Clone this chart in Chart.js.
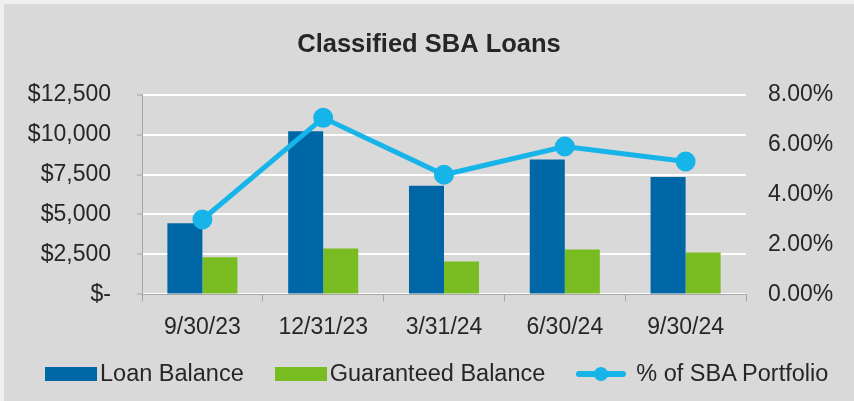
<!DOCTYPE html>
<html>
<head>
<meta charset="utf-8">
<script src="https://cdn.jsdelivr.net/npm/chart.js@4.4.1/dist/chart.umd.min.js"></script>
<style>
  html, body { margin: 0; padding: 0; background: #efefef; }
  #wrap { position: absolute; left: 4px; top: 4px; width: 850px; height: 397px; background: #d9d9d9; }
  #chart { display: block; }
  .legend { position: absolute; left: 41px; top: 356px; display: flex; align-items: center; gap: 31px;
            font-family: "Liberation Sans", Arial, sans-serif; font-size: 23.5px; color: #262626; }
  .item { display: flex; align-items: center; }
  .box { width: 52px; height: 14px; margin-right: 3px; }
  .lineKey { position: relative; width: 50px; height: 14px; margin-right: 10px; }
  .lineKey::before { content: ""; position: absolute; left: 0; right: 0; top: 4px; height: 6px; background: #17b4e9; border-radius: 3px; }
  .lineKey::after { content: ""; position: absolute; left: 18px; top: 0; width: 14px; height: 14px; border-radius: 50%; background: #17b4e9; }
</style>
</head>
<body>
<div id="wrap">
  <canvas id="chart" width="850" height="397"></canvas>
  <div class="legend">
    <div class="item"><span class="box" style="background:#0067a7"></span>Loan Balance</div>
    <div class="item"><span class="box" style="background:#79bc21"></span>Guaranteed Balance</div>
    <div class="item"><span class="lineKey"></span>% of SBA Portfolio</div>
  </div>
</div>
<script>
  const quarters = ["9/30/23", "12/31/23", "3/31/24", "6/30/24", "9/30/24"];
  const loanBalance = [4450, 10200, 6800, 8440, 7350];
  const guaranteedBalance = [2330, 2870, 2060, 2810, 2620];
  const pctOfPortfolio = [3.0, 7.07, 4.79, 5.92, 5.32];
  const dollarTicks = [0, 2500, 5000, 7500, 10000, 12500];
  const pctTicks = [0, 2, 4, 6, 8];

  const font = { family: "'Liberation Sans', Arial, sans-serif", size: 23 };
  const axisGray = "#a6a6a6";

  new Chart(document.getElementById("chart").getContext("2d"), {
    type: "bar",
    data: {
      labels: quarters,
      datasets: [
        {
          type: "line",
          label: "% of SBA Portfolio",
          data: pctOfPortfolio,
          yAxisID: "y1",
          borderColor: "#17b4e9",
          backgroundColor: "#17b4e9",
          borderWidth: 5,
          pointRadius: 7.5,
          pointHoverRadius: 7.5,
          tension: 0,
          order: 0,
        },
        {
          label: "Loan Balance",
          data: loanBalance,
          backgroundColor: "#0067a7",
          yAxisID: "y",
          order: 1,
        },
        {
          label: "Guaranteed Balance",
          data: guaranteedBalance,
          backgroundColor: "#79bc21",
          yAxisID: "y",
          order: 1,
        },
      ],
    },
    options: {
      responsive: false,
      animation: false,
      datasets: { bar: { categoryPercentage: 0.58, barPercentage: 1 } },
      layout: { padding: { top: 0, left: 0, right: 0, bottom: 48 } },
      plugins: {
        legend: { display: false },
        tooltip: { enabled: false },
        title: {
          display: true,
          text: "Classified SBA Loans",
          color: "#262626",
          font: { family: font.family, size: 25.5, weight: "bold" },
          padding: { top: 26, bottom: 34 },
        },
      },
      scales: {
        x: {
          grid: { drawOnChartArea: false, drawTicks: true, tickLength: 7, tickColor: axisGray, offset: true },
          border: { color: axisGray, width: 1 },
          ticks: { color: "#262626", font: font, padding: 12, maxRotation: 0 },
        },
        y: {
          position: "left",
          min: 0,
          max: 12500,
          afterBuildTicks: (scale) => { scale.ticks = dollarTicks.map((v) => ({ value: v })); },
          afterFit: (scale) => { scale.width = 138; },
          grid: { color: "#ffffff", lineWidth: 2, tickLength: 5, tickColor: axisGray, tickWidth: 1 },
          border: { color: axisGray, width: 1 },
          ticks: {
            color: "#262626",
            font: font,
            padding: 26,
            callback: (v) => (v === 0 ? "$-" : "$" + v.toLocaleString("en-US")),
          },
        },
        y1: {
          position: "right",
          min: 0,
          max: 8,
          afterBuildTicks: (scale) => { scale.ticks = pctTicks.map((v) => ({ value: v })); },
          afterFit: (scale) => { scale.width = 108; },
          grid: { display: false, drawTicks: false },
          border: { display: false },
          ticks: {
            color: "#262626",
            font: font,
            padding: 22,
            callback: (v) => v.toFixed(2) + "%",
          },
        },
      },
    },
  });
</script>
</body>
</html>
